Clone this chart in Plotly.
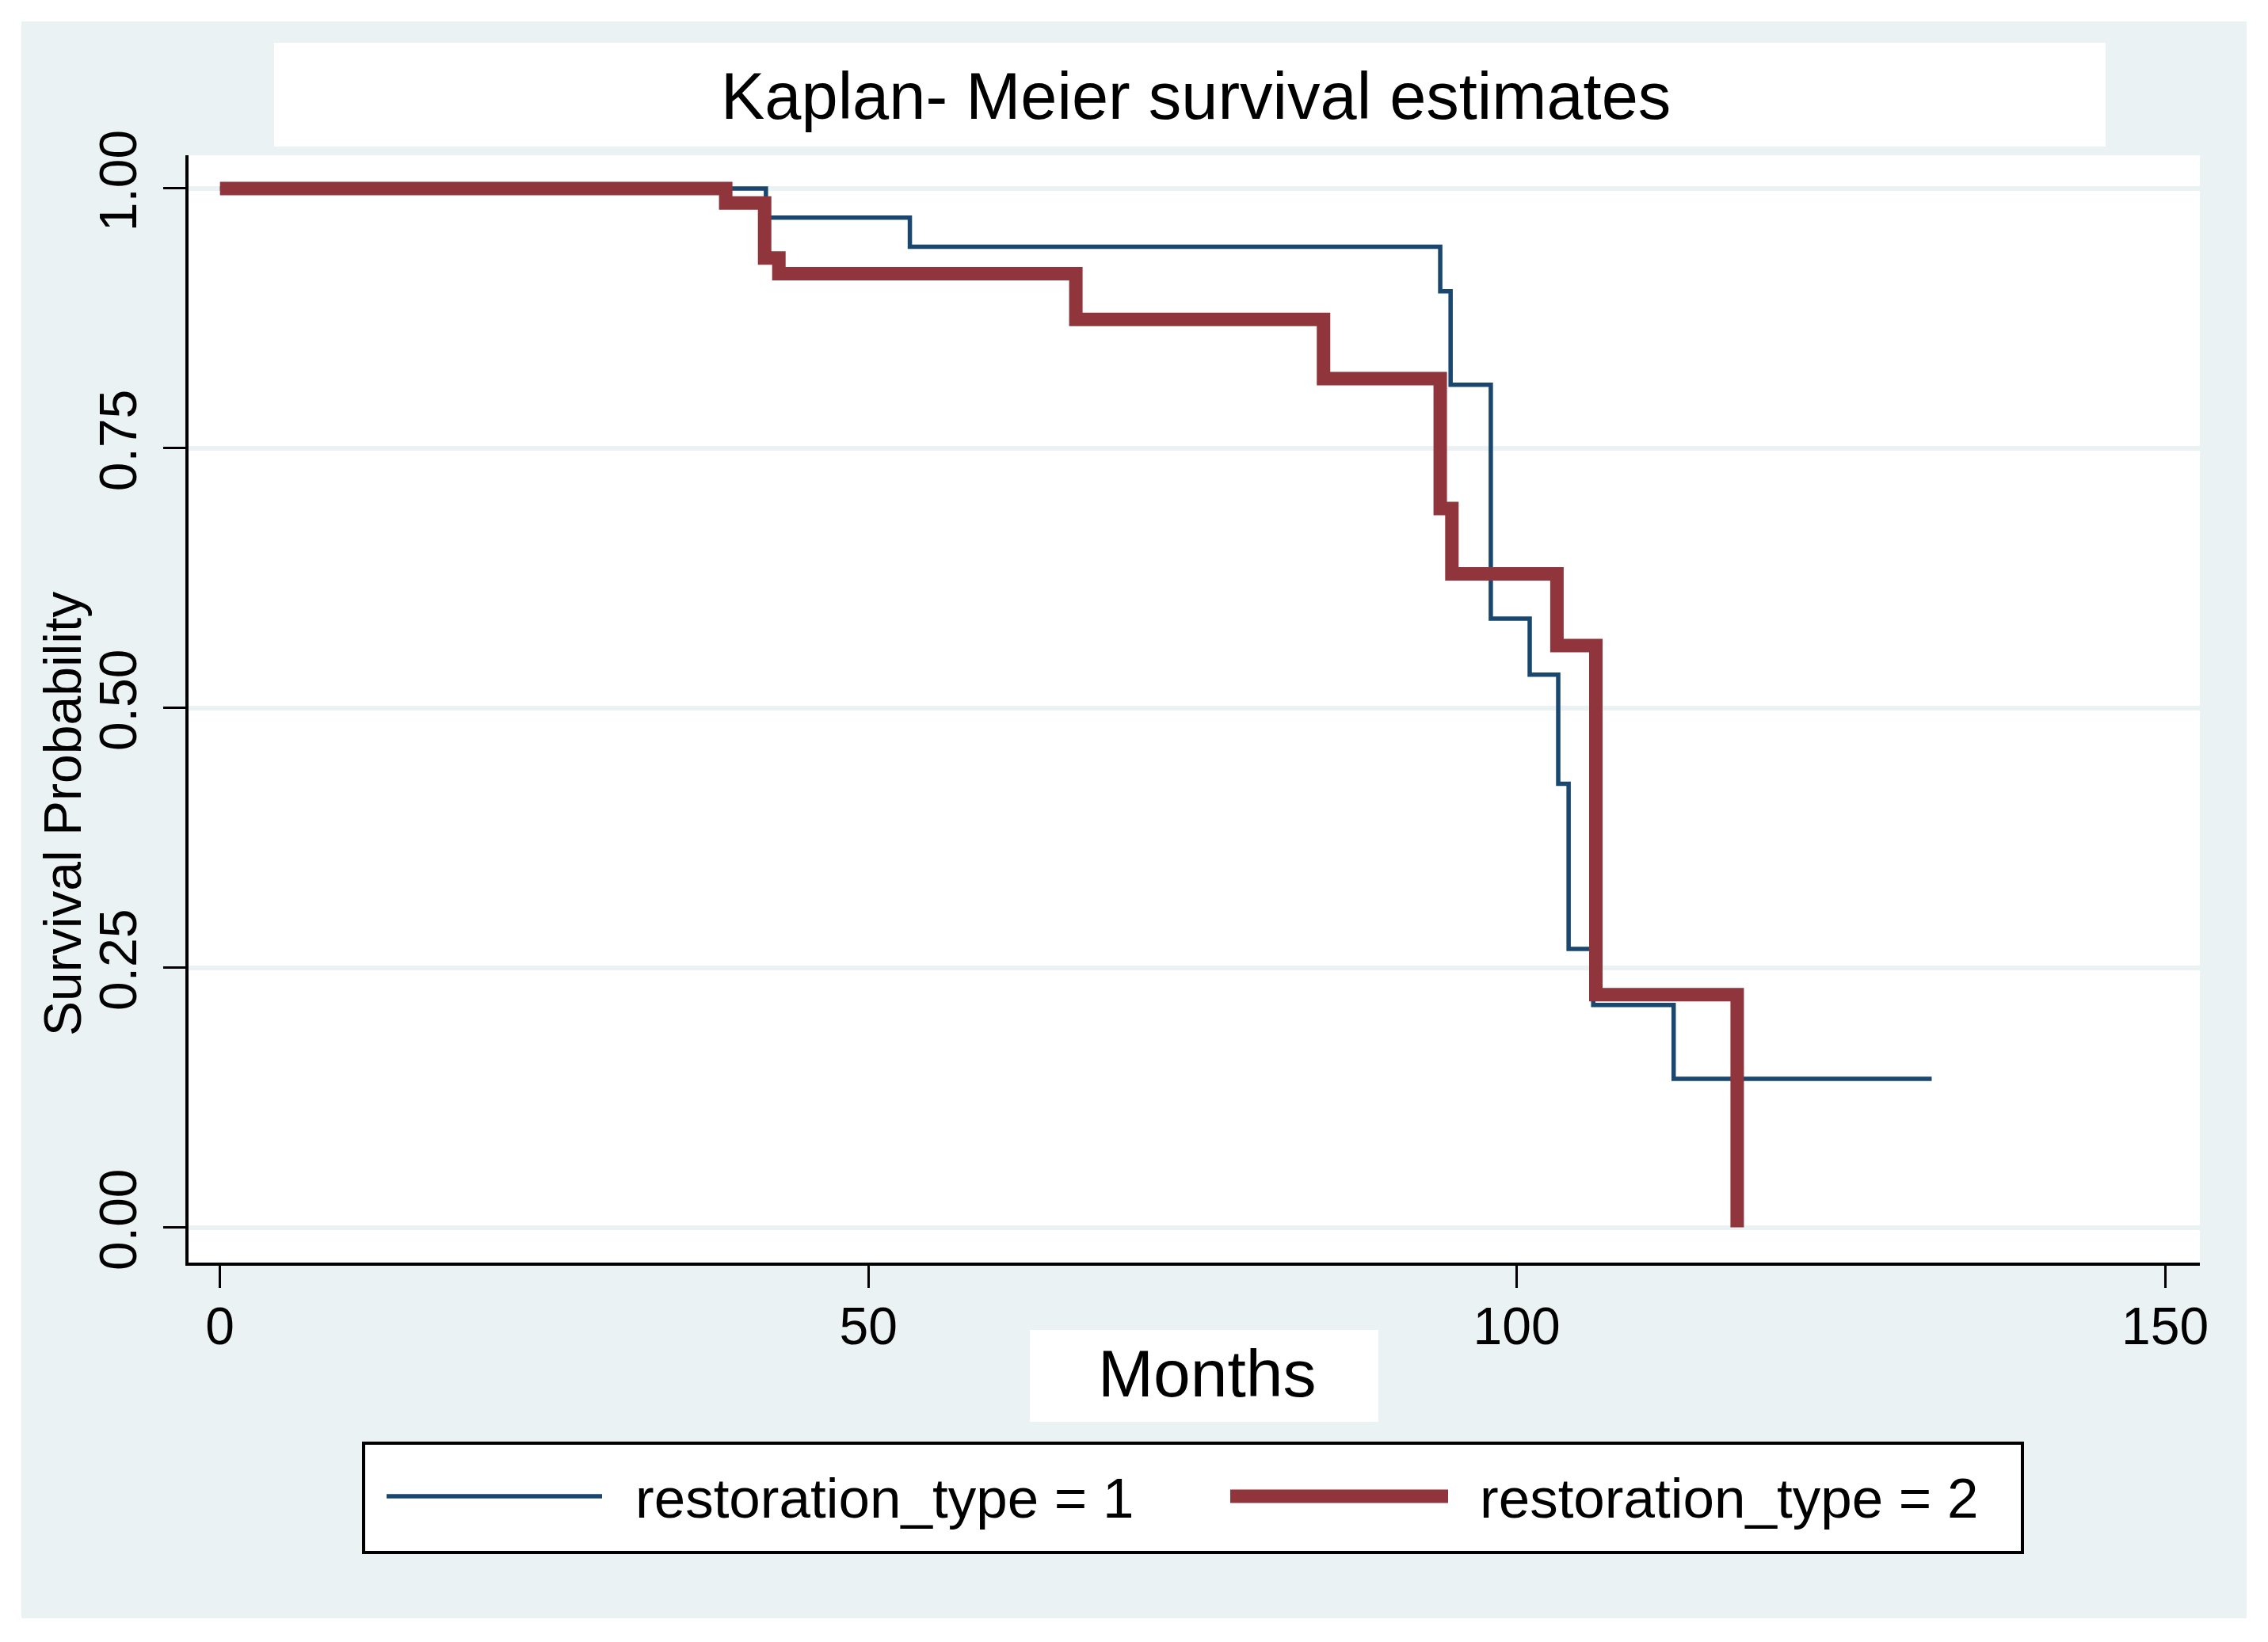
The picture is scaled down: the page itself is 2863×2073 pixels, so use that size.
import plotly.graph_objects as go

# ---------------- data ----------------
months_type1 = [0, 42.1, 53.2, 94.1, 94.9, 98.0, 101.0, 103.2, 104.0, 105.9, 112.1, 132.0]
surv_type1 = [1.0, 0.972, 0.944, 0.901, 0.811, 0.586, 0.532, 0.427, 0.268, 0.214, 0.143, 0.143]

months_type2 = [0, 39.0, 42.0, 43.1, 66.0, 85.1, 94.1, 95.0, 103.1, 106.1, 117.0]
surv_type2 = [1.0, 0.986, 0.933, 0.918, 0.874, 0.817, 0.692, 0.629, 0.560, 0.224, 0.0]

x_ticks = [0, 50, 100, 150]
y_ticks = [0.0, 0.25, 0.50, 0.75, 1.00]
legend_labels = ["restoration_type = 1", "restoration_type = 2"]
title_text = "Kaplan- Meier survival estimates"
x_title = "Months"
y_title = "Survival Probability"

# ---------------- layout geometry ----------------
PAGE_W, PAGE_H = 2863, 2073
OFF = 8  # default body margin of the html page
W, H = PAGE_W - OFF, PAGE_H - OFF
ML, MR, MT, MB = 238 - OFF, 86, 196 - OFF, 479
PW, PH = W - ML - MR, H - MT - MB

NAVY = "#1a476f"
MAROON = "#90353b"
BG = "#EAF2F3"
FONT = "Liberation Sans, Arial, sans-serif"


def px(x):
    """page x pixel -> paper coordinate"""
    return (x - OFF - ML) / PW


def py(y):
    """page y pixel -> paper coordinate"""
    return (H - MB - (y - OFF)) / PH


fig = go.Figure()
fig.add_trace(go.Scatter(x=months_type1, y=surv_type1, mode="lines",
                         line=dict(shape="hv", color=NAVY, width=5.5),
                         name=legend_labels[0], hoverinfo="skip"))
fig.add_trace(go.Scatter(x=months_type2, y=surv_type2, mode="lines",
                         line=dict(shape="hv", color=MAROON, width=17),
                         name=legend_labels[1], hoverinfo="skip"))


def rect(x0, y0, x1, y1, fill, lw=0, lc="black"):
    return dict(type="rect", xref="paper", yref="paper", layer="below",
                x0=px(x0), x1=px(x1), y0=py(y1), y1=py(y0),
                fillcolor=fill, line=dict(width=lw, color=lc))


shapes = [
    rect(27, 27, 2836, 2043, BG),
    rect(238, 196, 2777, 1594, "white"),
    rect(346, 54, 2658, 185, "white"),
    rect(1300, 1679, 1740, 1795, "white"),
    rect(459, 1822, 2553, 1960, "white", lw=4, lc="black"),
    dict(type="line", xref="paper", yref="paper", x0=px(488), x1=px(760),
         y0=py(1889), y1=py(1889), line=dict(color=NAVY, width=5.5)),
    dict(type="line", xref="paper", yref="paper", x0=px(1553), x1=px(1828),
         y0=py(1889), y1=py(1889), line=dict(color=MAROON, width=17)),
]

annotations = [
    dict(text=title_text, x=px(1509), y=py(122), xref="paper", yref="paper",
         showarrow=False, xanchor="center", yanchor="middle",
         font=dict(family=FONT, size=83, color="black")),
    dict(text=x_title, x=px(1524), y=py(1734), xref="paper", yref="paper",
         showarrow=False, xanchor="center", yanchor="middle",
         font=dict(family=FONT, size=84, color="black")),
    dict(text=y_title, x=px(79), y=py(1027), xref="paper", yref="paper",
         showarrow=False, xanchor="center", yanchor="middle", textangle=-90,
         font=dict(family=FONT, size=66, color="black")),
    dict(text=legend_labels[0], x=px(800), y=py(1891), xref="paper", yref="paper",
         showarrow=False, xanchor="left", yanchor="middle",
         font=dict(family=FONT, size=71, color="black")),
    dict(text=legend_labels[1], x=px(1866), y=py(1891), xref="paper", yref="paper",
         showarrow=False, xanchor="left", yanchor="middle",
         font=dict(family=FONT, size=71, color="black")),
]

fig.update_layout(
    width=W, height=H,
    margin=dict(l=ML, r=MR, t=MT, b=MB, pad=0),
    paper_bgcolor="white", plot_bgcolor="white",
    showlegend=False,
    shapes=shapes, annotations=annotations,
    font=dict(family=FONT, color="black"),
)

fig.update_xaxes(
    range=[-2.425, 152.68], tickvals=x_ticks, ticktext=[str(v) for v in x_ticks],
    showgrid=False, zeroline=False,
    showline=True, linecolor="black", linewidth=4,
    ticks="outside", ticklen=28, tickwidth=3, tickcolor="black",
    ticklabelstandoff=-8,
    tickfont=dict(family=FONT, size=66, color="black"),
)
fig.update_yaxes(
    range=[-0.0339, 1.032], tickvals=y_ticks, ticktext=[f"{v:.2f}" for v in y_ticks],
    showgrid=True, gridcolor=BG, gridwidth=6, zeroline=False,
    showline=True, linecolor="black", linewidth=4,
    ticks="outside", ticklen=28, tickwidth=3, tickcolor="black",
    tickangle=-90, ticklabelstandoff=8,
    tickfont=dict(family=FONT, size=66, color="black"),
)

fig.write_html("out.html")
